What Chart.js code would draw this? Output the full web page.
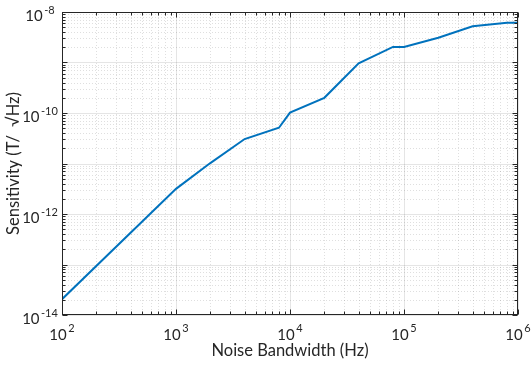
<!DOCTYPE html>
<html>
<head>
<meta charset="utf-8">
<script src="https://cdn.jsdelivr.net/npm/chart.js@4"></script>
<style>
  html, body { margin: 0; padding: 0; background: #fff; }
  #wrap { width: 532px; height: 365px; }
</style>
</head>
<body>
<div id="wrap"><canvas id="sensChart" width="532" height="365"></canvas></div>
<script>
// Noise bandwidth (Hz) and sensitivity (T/sqrt(Hz))
const bandwidth = [100, 1000, 2000, 4000, 8000, 10000, 20000, 40000, 80000, 100000, 200000, 400000, 800000, 1000000];
const sensitivity = [2.05e-14, 3.15e-12, 1.02e-11, 3.05e-11, 5.1e-11, 1.02e-10, 2.0e-10, 9.6e-10, 2.03e-9, 2.03e-9, 3.1e-9, 5.2e-9, 6.1e-9, 6.1e-9];

// decade exponents for ticks / labels
const xDecades = [2, 3, 4, 5, 6];
const yDecades = [-14, -13, -12, -11, -10, -9, -8];
const yLabelDecades = [-14, -12, -10, -8];

const FONT = "Lato, 'Open Sans', sans-serif";
const TEXT = "#262626";

function drawPow(ctx, exp, cx, baseY, expBase) {
  // draws "10" with a superscript exponent, centred on cx
  ctx.font = "15px " + FONT;
  const w1 = ctx.measureText("10").width;
  ctx.font = "11px " + FONT;
  const es = exp < 0 ? "-" + Math.abs(exp) : String(exp);
  const w2 = ctx.measureText(es).width;
  const total = w1 + 1.5 + w2;
  const x0 = cx - total / 2;
  ctx.textAlign = "left";
  ctx.textBaseline = "alphabetic";
  ctx.font = "15px " + FONT;
  ctx.fillText("10", x0, baseY);
  ctx.font = "11px " + FONT;
  ctx.fillText(es, x0 + w1 + 1.5, expBase);
}

// MATLAB-ish axes: grid, minor grid, inner ticks, box, labels
const matlabAxes = {
  id: "matlabAxes",
  beforeDatasetsDraw(chart) {
    const { ctx, chartArea: a, scales: { x, y } } = chart;
    ctx.save();
    ctx.lineWidth = 1;
    // minor grid (dotted)
    ctx.strokeStyle = "rgba(38,38,38,0.15)";
    ctx.setLineDash([1, 2]);
    for (let e = 2; e < 6; e++) {
      for (let m = 2; m <= 9; m++) {
        const px = Math.round(x.getPixelForValue(m * Math.pow(10, e))) + 0.5;
        ctx.beginPath(); ctx.moveTo(px, a.top); ctx.lineTo(px, a.bottom); ctx.stroke();
      }
    }
    for (let e = -14; e < -8; e++) {
      for (let m = 2; m <= 9; m++) {
        const py = Math.round(y.getPixelForValue(m * Math.pow(10, e))) + 0.5;
        ctx.beginPath(); ctx.moveTo(a.left, py); ctx.lineTo(a.right, py); ctx.stroke();
      }
    }
    // major grid (solid)
    ctx.setLineDash([]);
    ctx.strokeStyle = "rgba(38,38,38,0.12)";
    xDecades.forEach(e => {
      const px = Math.round(x.getPixelForValue(Math.pow(10, e))) + 0.5;
      ctx.beginPath(); ctx.moveTo(px, a.top); ctx.lineTo(px, a.bottom); ctx.stroke();
    });
    yDecades.forEach(e => {
      const py = Math.round(y.getPixelForValue(Math.pow(10, e))) + 0.5;
      ctx.beginPath(); ctx.moveTo(a.left, py); ctx.lineTo(a.right, py); ctx.stroke();
    });
    ctx.restore();
  },
  afterDatasetsDraw(chart) {
    const { ctx, chartArea: a, scales: { x, y } } = chart;
    ctx.save();
    ctx.lineWidth = 1;
    ctx.strokeStyle = TEXT;
    const L = Math.round(a.left) + 0.5, R = Math.round(a.right) - 0.5;
    const T = Math.round(a.top) + 0.5, B = Math.round(a.bottom) - 0.5;
    // ticks, inward, on all sides
    for (let e = 2; e <= 6; e++) {
      for (let m = 1; m <= 9; m++) {
        if (e === 6 && m > 1) break;
        const px = Math.round(x.getPixelForValue(m * Math.pow(10, e))) + 0.5;
        const len = m === 1 ? 5 : 3;
        ctx.beginPath();
        ctx.moveTo(px, B); ctx.lineTo(px, B - len);
        ctx.moveTo(px, T); ctx.lineTo(px, T + len);
        ctx.stroke();
      }
    }
    for (let e = -14; e <= -8; e++) {
      for (let m = 1; m <= 9; m++) {
        if (e === -8 && m > 1) break;
        const py = Math.round(y.getPixelForValue(m * Math.pow(10, e))) + 0.5;
        const len = m === 1 ? 5 : 3;
        ctx.beginPath();
        ctx.moveTo(L, py); ctx.lineTo(L + len, py);
        ctx.moveTo(R, py); ctx.lineTo(R - len, py);
        ctx.stroke();
      }
    }
    // box
    ctx.strokeRect(L, T, R - L, B - T);

    // tick labels
    ctx.fillStyle = TEXT;
    xDecades.forEach(e => {
      const px = x.getPixelForValue(Math.pow(10, e));
      drawPow(ctx, e, px, a.bottom + 25, a.bottom + 17);
    });
    yLabelDecades.forEach(e => {
      const py = y.getPixelForValue(Math.pow(10, e));
      drawPow(ctx, e, 40, py + 9, py + 2);
    });

    // axis titles
    ctx.font = "16.5px " + FONT;
    ctx.textAlign = "center";
    ctx.textBaseline = "alphabetic";
    ctx.fillText("Noise Bandwidth (Hz)", (a.left + a.right) / 2, 356);
    ctx.save();
    ctx.translate(19, (a.top + a.bottom) / 2);
    ctx.rotate(-Math.PI / 2);
    ctx.fillText("Sensitivity (T/  \u221AHz)", 0, 0);
    ctx.restore();
    ctx.restore();
  }
};

const ctx = document.getElementById("sensChart").getContext("2d");
new Chart(ctx, {
  type: "line",
  data: {
    datasets: [{
      data: bandwidth.map((b, i) => ({ x: b, y: sensitivity[i] })),
      borderColor: "#0072BD",
      borderWidth: 2,
      pointRadius: 0,
      fill: false,
      tension: 0,
    }],
  },
  options: {
    responsive: false,
    animation: false,
    layout: { padding: { left: 62, right: 14, top: 12, bottom: 50 } },
    plugins: {
      legend: { display: false },
      tooltip: { enabled: false },
    },
    scales: {
      x: { type: "logarithmic", min: 100, max: 1000000, display: false },
      y: { type: "logarithmic", min: 1e-14, max: 1e-8, display: false },
    },
  },
  plugins: [matlabAxes],
});
</script>
</body>
</html>
